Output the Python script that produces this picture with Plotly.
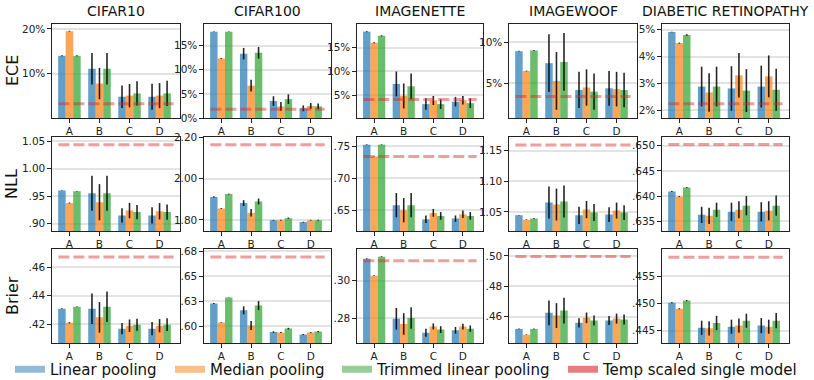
import plotly.graph_objects as go
from plotly.subplots import make_subplots

DATASETS = ["CIFAR10", "CIFAR100", "IMAGENETTE", "IMAGEWOOF", "DIABETIC RETINOPATHY"]
CATEGORIES = ["A", "B", "C", "D"]
METRICS = ["ECE", "NLL", "Brier"]
METHODS = ["Linear pooling", "Median pooling", "Trimmed linear pooling"]
TEMP_LABEL = "Temp scaled single model"

# ECE (percent)
ECE_LINEAR = [[14.0, 11.1, 4.85, 4.85], [17.85, 13.3, 3.5, 2.0], [18.3, 7.4, 3.2, 3.7],
              [8.9, 7.45, 4.2, 4.4], [4.91, 2.88, 2.81, 2.88]]
ECE_MEDIAN = [[19.5, 7.8, 5.1, 5.1], [12.3, 6.7, 2.4, 2.5], [16.0, 4.9, 3.95, 4.0],
              [6.5, 5.3, 4.5, 4.3], [4.5, 2.66, 3.3, 3.26]]
ECE_TRIMMED = [[14.0, 11.1, 5.6, 5.6], [17.85, 13.5, 3.9, 2.4], [17.45, 6.9, 3.2, 3.4],
               [9.0, 7.6, 4.0, 4.2], [4.8, 2.88, 2.73, 2.76]]
ECE_LINEAR_ERR = [[0.1, 3.5, 2.5, 2.9], [0.05, 1.2, 1.0, 0.6], [0.1, 2.6, 1.2, 1.0],
                  [0.05, 3.5, 2.2, 2.1], [0.01, 0.74, 0.83, 0.78]]
ECE_MEDIAN_ERR = [[0.1, 3.5, 2.6, 2.8], [0.1, 1.2, 0.9, 0.6], [0.1, 2.6, 0.95, 0.9],
                  [0.05, 3.5, 2.2, 2.1], [0.02, 0.72, 0.83, 0.78]]
ECE_TRIMMED_ERR = [[0.1, 3.5, 2.7, 2.8], [0.05, 1.2, 1.0, 0.6], [0.1, 2.7, 1.0, 1.0],
                   [0.05, 3.5, 2.2, 2.1], [0.03, 0.74, 0.8, 0.78]]
ECE_TEMP = [3.3, 1.8, 4.15, 3.4, 2.24]

# NLL
NLL_LINEAR = [[.9604, .9555, .915, .915], [1.911, 1.881, 1.798, 1.789], [.7526, .6579, .6358, .6368],
              [1.0445, 1.0653, 1.0445, 1.0456], [.6409, .6363, .6369, .6369]]
NLL_MEDIAN = [[.9378, .939, .9237, .9225], [1.855, 1.834, 1.798, 1.798], [.7342, .65, .6458, .6437],
              [1.0374, 1.062, 1.0538, 1.0522], [.6399, .6361, .6373, .6371]]
NLL_TRIMMED = [[.9592, .9555, .921, .921], [1.925, 1.889, 1.808, 1.798], [.7526, .6579, .6411, .6411],
               [1.0391, 1.0669, 1.049, 1.049], [.6417, .6373, .6381, .6381]]
NLL_LINEAR_ERR = [[.0005, .032, .013, .015], [.003, .014, .002, .002], [.0005, .019, .006, .005],
                  [.0005, .026, .014, .012], [.0001, .0016, .0018, .0019]]
NLL_MEDIAN_ERR = [[.0008, .033, .014, .015], [.002, .018, .002, .002], [.0005, .019, .006, .006],
                  [.0005, .026, .014, .013], [.0001, .0016, .0017, .0019]]
NLL_TRIMMED_ERR = [[.0005, .032, .013, .014], [.002, .014, .003, .002], [.0005, .019, .006, .006],
                   [.0005, .026, .014, .012], [.0001, .0014, .0019, .002]]
NLL_TEMP = [1.044, 2.164, .7342, 1.159, .6502]

# Brier
BRIER_LINEAR = [[.4308, .4308, .4167, .4167], [.6227, .616, .5943, .5917], [.3118, .2796, .2721, .2734],
                [.4519, .4625, .4559, .4574], [.4501, .4455, .4457, .4459]]
BRIER_MEDIAN = [[.4209, .4247, .4188, .4188], [.6037, .6007, .5937, .5937], [.3027, .2768, .2755, .2754],
                [.4481, .4607, .4592, .4587], [.4490, .4454, .4459, .4457]]
BRIER_TRIMMED = [[.4322, .4322, .4195, .4195], [.6287, .6207, .5977, .5947], [.3129, .28, .2738, .2743],
                 [.4519, .464, .4574, .4581], [.4505, .4464, .4468, .4468]]
BRIER_LINEAR_ERR = [[.0003, .0108, .004, .0047], [.0005, .004, .0007, .0005], [.0002, .0058, .0022, .0018],
                    [.0002, .0082, .003, .003], [.0001, .0013, .0013, .0014]]
BRIER_MEDIAN_ERR = [[.0004, .0108, .0044, .0047], [.0003, .0045, .0005, .0005], [.0002, .0058, .0016, .0015],
                    [.0002, .0082, .0035, .0033], [.0001, .0013, .0013, .0013]]
BRIER_TRIMMED_ERR = [[.0002, .0108, .0042, .0045], [.0002, .0045, .0008, .0007], [.0002, .0058, .0018, .0017],
                     [.0002, .0085, .0033, .0033], [.0001, .0013, .0013, .0014]]
BRIER_TEMP = [.4673, .6693, .3107, .4996, .4585]

# Tick values and labels per panel
ECE_TICKVALS = [[10, 20], [0, 5, 10, 15], [5, 10, 15], [5, 10], [2, 3, 4, 5]]
ECE_TICKTEXT = [["10%", "20%"], ["0%", "5%", "10%", "15%"], ["5%", "10%", "15%"], ["5%", "10%"],
                ["2%", "3%", "4%", "5%"]]
NLL_TICKVALS = [[.90, .95, 1.00, 1.05], [1.80, 2.00, 2.20], [.65, .70, .75], [1.05, 1.10, 1.15],
                [.635, .640, .645, .650]]
NLL_TICKTEXT = [[".90", ".95", "1.00", "1.05"], ["1.80", "2.00", "2.20"], [".65", ".70", ".75"],
                ["1.05", "1.10", "1.15"], [".635", ".640", ".645", ".650"]]
BRIER_TICKVALS = [[.42, .44, .46], [.600, .625, .650, .675], [.28, .30], [.46, .48, .50], [.445, .450, .455]]
BRIER_TICKTEXT = [[".42", ".44", ".46"], [".60", ".63", ".65", ".68"], [".28", ".30"], [".46", ".48", ".50"],
                  [".445", ".450", ".455"]]

# y-axis view ranges (layout)
Y_RANGES = [
    [[0.1, 21.1], [0, 19.45], [0.3, 19.9], [0.8, 12.2], [1.71, 5.21]],
    [[.8865, 1.058], [1.746, 2.201], [.6174, .7647], [1.0189, 1.172], [.6331, .6517]],
    [[.4066, .4729], [.5833, .6773], [.2666, .317], [.4426, .5046], [.4427, .4600]],
]

VALUES = [[ECE_LINEAR, ECE_MEDIAN, ECE_TRIMMED], [NLL_LINEAR, NLL_MEDIAN, NLL_TRIMMED],
          [BRIER_LINEAR, BRIER_MEDIAN, BRIER_TRIMMED]]
ERRORS = [[ECE_LINEAR_ERR, ECE_MEDIAN_ERR, ECE_TRIMMED_ERR], [NLL_LINEAR_ERR, NLL_MEDIAN_ERR, NLL_TRIMMED_ERR],
          [BRIER_LINEAR_ERR, BRIER_MEDIAN_ERR, BRIER_TRIMMED_ERR]]
TEMPS = [ECE_TEMP, NLL_TEMP, BRIER_TEMP]
TICKVALS = [ECE_TICKVALS, NLL_TICKVALS, BRIER_TICKVALS]
TICKTEXT = [ECE_TICKTEXT, NLL_TICKTEXT, BRIER_TICKTEXT]

BAR_COLORS = ["rgba(31,119,180,0.7)", "rgba(255,127,14,0.7)", "rgba(44,160,44,0.7)"]
LEGEND_COLORS = ["rgba(31,119,180,0.5)", "rgba(255,127,14,0.5)", "rgba(44,160,44,0.5)", "rgba(214,39,40,0.6)"]
TEMP_COLOR = "rgba(214,39,40,0.45)"
FONT = "DejaVu Sans"

W, H = 814, 380
COL_PX = [(52, 180), (204, 331), (357, 483), (509, 637), (662, 789)]
ROW_PX = [(24, 118), (137, 231), (249, 343)]
LEGEND_TEXT_X = [50, 210, 377, 603]

fig = make_subplots(rows=3, cols=5)

for r in range(3):
    for c in range(5):
        for m in range(3):
            fig.add_trace(go.Bar(
                x=CATEGORIES, y=VALUES[r][m][c], name=METHODS[m],
                marker=dict(color=BAR_COLORS[m], line=dict(width=0)),
                error_y=dict(type="data", array=ERRORS[r][m][c], color="rgba(0,0,0,0.85)",
                             thickness=1.6, width=0),
                offsetgroup=str(m), showlegend=False,
            ), row=r + 1, col=c + 1)
        n = r * 5 + c + 1
        suffix = "" if n == 1 else str(n)
        fig.add_shape(type="line", xref=f"x{suffix} domain", yref=f"y{suffix}",
                      x0=0.05, x1=0.95, y0=TEMPS[r][c], y1=TEMPS[r][c],
                      line=dict(color=TEMP_COLOR, width=3, dash="11px,4px"), layer="above")
        x0, x1 = COL_PX[c]
        y0, y1 = ROW_PX[r]
        fig.update_xaxes(domain=[x0 / W, x1 / W], range=[-0.58, 3.68], row=r + 1, col=c + 1)
        fig.update_yaxes(domain=[1 - y1 / H, 1 - y0 / H], range=Y_RANGES[r][c],
                         tickvals=TICKVALS[r][c], ticktext=TICKTEXT[r][c], row=r + 1, col=c + 1)

# legend entries, one small legend each so they can sit where the reference puts them
legend_layouts = {}
for i, (name, col) in enumerate(zip(METHODS + [TEMP_LABEL], LEGEND_COLORS)):
    key = "legend" if i == 0 else f"legend{i + 1}"
    fig.add_trace(go.Scatter(x=[None], y=[None], mode="lines", name=name, legend=key,
                             line=dict(color=col, width=7), showlegend=True), row=1, col=1)
    legend_layouts[key] = dict(x=(LEGEND_TEXT_X[i] - 40) / W, xanchor="left",
                               y=1 - 369.5 / H, yanchor="middle", orientation="h",
                               font=dict(family=FONT, size=15, color="#111"), itemwidth=30,
                               bgcolor="rgba(0,0,0,0)", borderwidth=0)

fig.update_xaxes(type="category", showline=True, mirror=True, linecolor="#222", linewidth=1.2,
                 ticks="outside", ticklen=3.5, tickcolor="#222", showgrid=False,
                 tickfont=dict(family=FONT, size=10.5, color="#222"))
fig.update_yaxes(showline=True, mirror=True, linecolor="#222", linewidth=1.2,
                 ticks="outside", ticklen=3.5, tickcolor="#222", showgrid=True,
                 gridcolor="#e3e3e3", gridwidth=2, zeroline=False,
                 tickfont=dict(family=FONT, size=10.5, color="#222"))

annotations = []
for c, name in enumerate(DATASETS):
    x0, x1 = COL_PX[c]
    annotations.append(dict(text=name, x=(x0 + x1) / 2 / W, y=1 - 11 / H, xref="paper", yref="paper",
                            showarrow=False, font=dict(family=FONT, size=14, color="#111"),
                            xanchor="center", yanchor="middle"))
for r, name in enumerate(METRICS):
    y0, y1 = ROW_PX[r]
    annotations.append(dict(text=name, x=12 / W, y=1 - (y0 + y1) / 2 / H, xref="paper", yref="paper",
                            showarrow=False, textangle=-90, font=dict(family=FONT, size=16, color="#111"),
                            xanchor="center", yanchor="middle"))

fig.update_layout(
    width=W, height=H, margin=dict(l=0, r=0, t=0, b=0, autoexpand=False),
    paper_bgcolor="white", plot_bgcolor="white",
    barmode="group", bargap=0.25, bargroupgap=0,
    annotations=annotations,
    font=dict(family=FONT),
    **legend_layouts,
)

fig.write_html("out.html", config={"displayModeBar": False},
               post_script="document.body.style.margin='0';")
